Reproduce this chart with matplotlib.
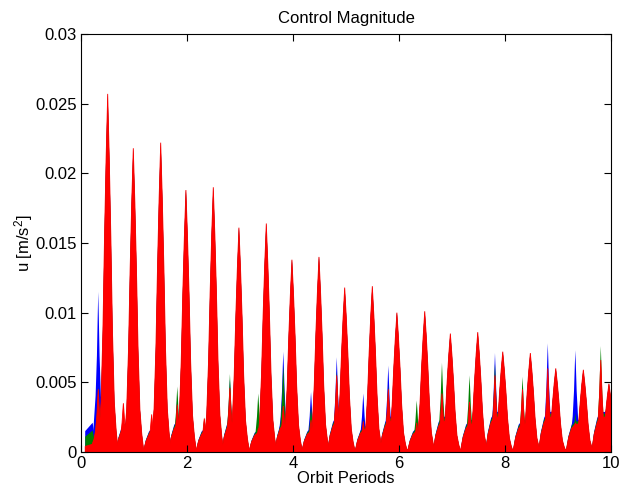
import numpy as np
import matplotlib.pyplot as plt

# main (large) spike of each half orbit, red curve on top
main_t = [0.504, 0.987, 1.504, 1.98, 2.496, 2.98, 3.496, 3.98, 4.49, 4.975,
          5.496, 5.96, 6.485, 6.968, 7.485, 7.957, 8.477, 8.957, 9.477, 9.96]
main_u = [0.0257, 0.0218, 0.0222, 0.0188, 0.0190, 0.0161, 0.0164, 0.0138, 0.0140, 0.0118,
          0.0119, 0.0100, 0.0101, 0.0085, 0.0086, 0.0072, 0.0071, 0.0060, 0.0059, 0.0049]

# broad hump leading into each main spike
shoulder_red = [0.0014, 0.0018, 0.0015, 0.0020, 0.0015, 0.0021, 0.0014, 0.0020, 0.0015, 0.0022,
                0.0016, 0.0022, 0.0015, 0.0022, 0.0020, 0.0025, 0.0020, 0.0025, 0.0020, 0.0025]
shoulder_extra = {'b': 1.15, 'g': 1.1, 'r': 1.0}

# smaller spike ahead of each main spike
sec_t = [0.326, 0.80, 1.334, 1.817, 2.326, 2.81, 3.345, 3.817, 4.34, 4.825,
         5.326, 5.798, 6.334, 6.81, 7.33, 7.81, 8.33, 8.806, 9.326, 9.806]
sec_blue = [0.0115, 0.0016, 0.0017, 0.0040, 0.0020, 0.0052, 0.0015, 0.0072, 0.0043, 0.0068,
            0.0042, 0.0062, 0.0023, 0.0040, 0.0030, 0.0071, 0.0023, 0.0078, 0.0073, 0.0040]
sec_green = [0.0047, 0.0014, 0.0013, 0.0047, 0.0025, 0.0056, 0.0042, 0.0062, 0.0033, 0.0058,
             0.0024, 0.0048, 0.0037, 0.0064, 0.0055, 0.0063, 0.0054, 0.0050, 0.0028, 0.0076]
sec_red = [0.0045, 0.0035, 0.0027, 0.0034, 0.0024, 0.0046, 0.0017, 0.0033, 0.0023, 0.0055,
           0.0022, 0.0045, 0.0021, 0.0042, 0.0036, 0.0055, 0.0045, 0.0060, 0.0021, 0.0066]

start_t = 0.08
start_u = {'b': 0.0015, 'g': 0.0011, 'r': 0.0004}
floor_u = 0.00025

# shapes (offset in orbits, fraction of height)
main_dt = [-0.2, -0.16, -0.125, -0.09, -0.06, -0.03, -0.01, 0, 0.01, 0.03, 0.06, 0.09, 0.125, 0.16, 0.2]
main_fr = [0, 0.06, 0.14, 0.34, 0.6, 0.82, 0.94, 1, 0.94, 0.82, 0.6, 0.34, 0.14, 0.06, 0]
sec_dt = [-0.13, -0.09, -0.05, -0.025, -0.01, 0, 0.01, 0.025, 0.05, 0.09, 0.13]
sec_fr = [0, 0.15, 0.35, 0.6, 0.85, 1, 0.85, 0.6, 0.35, 0.15, 0]
sh_dt = [-0.33, -0.28, -0.22, -0.15, -0.08, 0, 0.08]
sh_fr = [0, 0.5, 0.85, 1, 1, 1.1, 0]


def draw_series(ax, color, sec, lw):
	kw = dict(facecolor=color, edgecolor=color, linewidth=lw)
	ax.fill([start_t, 10, 10, start_t], [0, 0, floor_u, floor_u], **kw)
	s = start_u[color]
	ax.fill([start_t, start_t, 0.22, 0.3], [0, s, s * 1.4, 0], **kw)
	k = shoulder_extra[color]
	for t, h in zip(main_t, shoulder_red):
		ax.fill(np.add(t, sh_dt), np.multiply(h * k, sh_fr), **kw)
	for t, h in zip(sec_t, sec):
		ax.fill(np.add(t, sec_dt), np.multiply(h, sec_fr), **kw)
	for t, h in zip(main_t, main_u):
		ax.fill(np.add(t, main_dt), np.multiply(h, main_fr), **kw)


def main():
	plt.rcParams['font.family'] = ['Liberation Sans', 'DejaVu Sans']
	plt.rcParams['mathtext.default'] = 'regular'
	plt.rcParams['font.size'] = 12

	fig = plt.figure(figsize=(6.2, 4.91), dpi=100)
	ax = fig.add_axes([0.1306, 0.0794, 0.855, 0.8514])

	draw_series(ax, 'b', sec_blue, 0)
	draw_series(ax, 'g', sec_green, 0)
	draw_series(ax, 'r', sec_red, 0.6)

	ax.set_xlim(0, 10)
	ax.set_ylim(0, 0.03)
	ax.set_xticks([0, 2, 4, 6, 8, 10])
	ax.set_yticks([0, 0.005, 0.01, 0.015, 0.02, 0.025, 0.03])
	ax.set_yticklabels(['0', '0.005', '0.01', '0.015', '0.02', '0.025', '0.03'])
	ax.tick_params(direction='in', top=True, right=True, length=5, width=0.8,
		labelsize=12, pad=3)
	for sp in ax.spines.values():
		sp.set_linewidth(0.8)

	ax.set_title('Control Magnitude', fontsize=12, pad=8)
	ax.set_xlabel('Orbit Periods', fontsize=12, labelpad=0)
	ax.set_ylabel('u [m/s$^2$]', fontsize=12, labelpad=0)

	fig.savefig('out.png', dpi=100)


if __name__ == "__main__":
	main()
